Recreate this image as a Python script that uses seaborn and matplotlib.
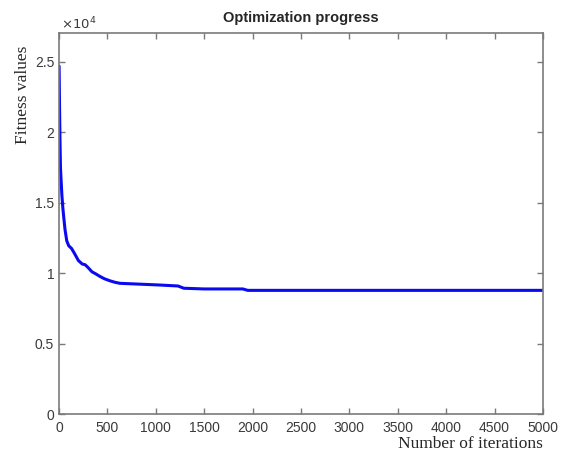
import pandas as pd
import matplotlib
matplotlib.use("Agg")
import matplotlib.pyplot as plt
import seaborn as sns

# values
iterations = [1, 5, 10, 15, 20, 30, 40, 50, 62, 80, 100, 130, 160, 200, 240,
              270, 300, 340, 380, 420, 470, 530, 580, 630, 800, 1040, 1230,
              1290, 1500, 1900, 1950, 5000]
fitness = [24700, 22000, 19500, 17500, 16800, 15500, 14600, 13900, 13100,
           12300, 11950, 11750, 11400, 10900, 10650, 10600, 10400, 10100,
           9950, 9780, 9600, 9450, 9350, 9280, 9230, 9160, 9090, 8930, 8880,
           8880, 8780, 8780]
x_ticks = [0, 500, 1000, 1500, 2000, 2500, 3000, 3500, 4000, 4500, 5000]
y_ticks = [0, 5000, 10000, 15000, 20000, 25000]
y_tick_labels = ["0", "0.5", "1", "1.5", "2", "2.5"]

df = pd.DataFrame({"iteration": iterations, "fitness": fitness})

sns.set_style("white")
plt.rcParams["font.family"] = ["Liberation Sans", "DejaVu Sans"]
fig = plt.figure(figsize=(5.62, 4.59), dpi=100)
ax = fig.add_axes([0.105, 0.098, 0.861, 0.830])

sns.lineplot(data=df, x="iteration", y="fitness", ax=ax, color="#0a0af0",
             linewidth=2.2)

ax.set_xlim(0, 5000)
ax.set_ylim(0, 27050)
ax.set_xticks(x_ticks)
ax.set_xticklabels([str(t) for t in x_ticks])
ax.set_yticks(y_ticks)
ax.set_yticklabels(y_tick_labels)

for s in ax.spines.values():
    s.set_color("#7a7a7a")
    s.set_linewidth(1.2)
ax.tick_params(direction="in", length=4, width=1, colors="#7a7a7a",
               labelcolor="#3a3a3a", labelsize=10, top=True, right=True,
               bottom=True, left=True)
ax.tick_params(axis="x", pad=5)

ax.text(0.005, 1.002, r"$\times10^{4}$", transform=ax.transAxes,
        fontsize=9.5, color="#3a3a3a", ha="left", va="bottom")

ax.set_title("Optimization progress", fontsize=10.5, fontweight="bold",
             pad=8)
ax.set_xlabel("Number of iterations", family="Liberation Serif", fontsize=12.5)
ax.xaxis.set_label_coords(1.0, -0.058)
ax.xaxis.label.set_ha("right")
ax.set_ylabel("Fitness values", family="Liberation Serif", fontsize=12.5)
ax.yaxis.set_label_coords(-0.058, 0.837)

fig.savefig("out.png", dpi=100)
